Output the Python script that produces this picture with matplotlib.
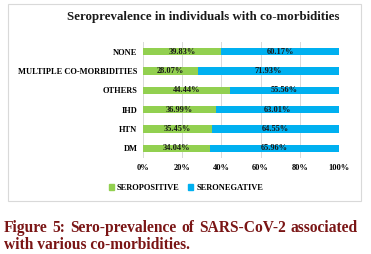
import matplotlib
matplotlib.use("Agg")
import matplotlib.pyplot as plt
from matplotlib.patches import Rectangle, Patch
import numpy as np

categories = ["DM", "HTN", "IHD", "OTHERS", "MULTIPLE CO-MORBIDITIES", "NONE"]
seropositive = [34.04, 35.45, 36.99, 44.44, 28.07, 39.83]
seronegative = [65.96, 64.55, 63.01, 55.56, 71.93, 60.17]
xticks = [0, 20, 40, 60, 80, 100]
xticklabels = ["0%", "20%", "40%", "60%", "80%", "100%"]

green = "#92D050"
blue = "#00B0F0"
W, H = 371, 254

fig = plt.figure(figsize=(W / 100, H / 100), dpi=100)
fig.patch.set_facecolor("white")

fig.patches.append(Rectangle((8 / W, 1 - 201 / H), (361 - 8) / W, (201 - 4) / H,
                             transform=fig.transFigure, fill=False,
                             edgecolor="#d9d9d9", linewidth=0.8))

ax = fig.add_axes([143 / W, 1 - 158 / H, (339 - 143) / W, (158 - 42) / H])
y = np.arange(len(categories))
bh = 0.37
ax.barh(y, seropositive, height=bh, color=green, zorder=2)
ax.barh(y, seronegative, left=seropositive, height=bh, color=blue, zorder=2)

font = dict(family="Liberation Serif", weight="bold")
for yi, p, n in zip(y, seropositive, seronegative):
    ax.text(p / 2, yi, f"{p:.2f}%", ha="center", va="center", fontsize=6,
            color="#1a1a1a", **font)
    ax.text(p + n / 2, yi, f"{n:.2f}%", ha="center", va="center", fontsize=6,
            color="#1a1a1a", **font)

ax.set_xlim(0, 100)
ax.set_ylim(-0.5, len(categories) - 0.5)
ax.set_xticks(xticks)
ax.set_xticklabels(xticklabels, fontsize=6, **font)
ax.set_yticks(y)
ax.set_yticklabels(categories, fontsize=6, **font)
ax.tick_params(length=0, pad=4)
ax.xaxis.grid(True, color="#d9d9d9", linewidth=0.7, zorder=0)
ax.set_axisbelow(True)
for s in ax.spines.values():
    s.set_visible(False)

fig.text(203 / W, 1 - 17 / H, "Seroprevalence in individuals with co-morbidities",
         ha="center", va="center", fontsize=9.3, color="#1a1a1a", **font)

handles = [Patch(color=green, label="SEROPOSITIVE"), Patch(color=blue, label="SERONEGATIVE")]
fig.legend(handles=handles, loc="center", bbox_to_anchor=(186 / W, 1 - 188 / H),
           ncol=2, frameon=False, prop=dict(family="Liberation Serif", weight="bold", size=6),
           handlelength=0.6, handleheight=0.6, handletextpad=0.4, columnspacing=1.0)

# caption, first line justified between x=4 and x=358
cap_color = "#7a1515"
capfont = dict(fontsize=11.2, color=cap_color, family="Liberation Serif", weight="bold")
words = ["Figure", "5:", "Sero-prevalence", "of", "SARS-CoV-2", "associated"]
fig.canvas.draw()
r = fig.canvas.get_renderer()
tmp = [fig.text(0, 0, w, **capfont) for w in words]
widths = [t.get_window_extent(r).width for t in tmp]
for t in tmp:
    t.remove()
x0, x1 = 4, 358
gap = (x1 - x0 - sum(widths)) / (len(words) - 1)
x = x0
for w, wd in zip(words, widths):
    fig.text(x / W, 1 - 228 / H, w, ha="left", va="center", **capfont)
    x += wd + gap
fig.text(4 / W, 1 - 245 / H, "with various co-morbidities.", ha="left", va="center", **capfont)

fig.savefig("out.png", dpi=100)
